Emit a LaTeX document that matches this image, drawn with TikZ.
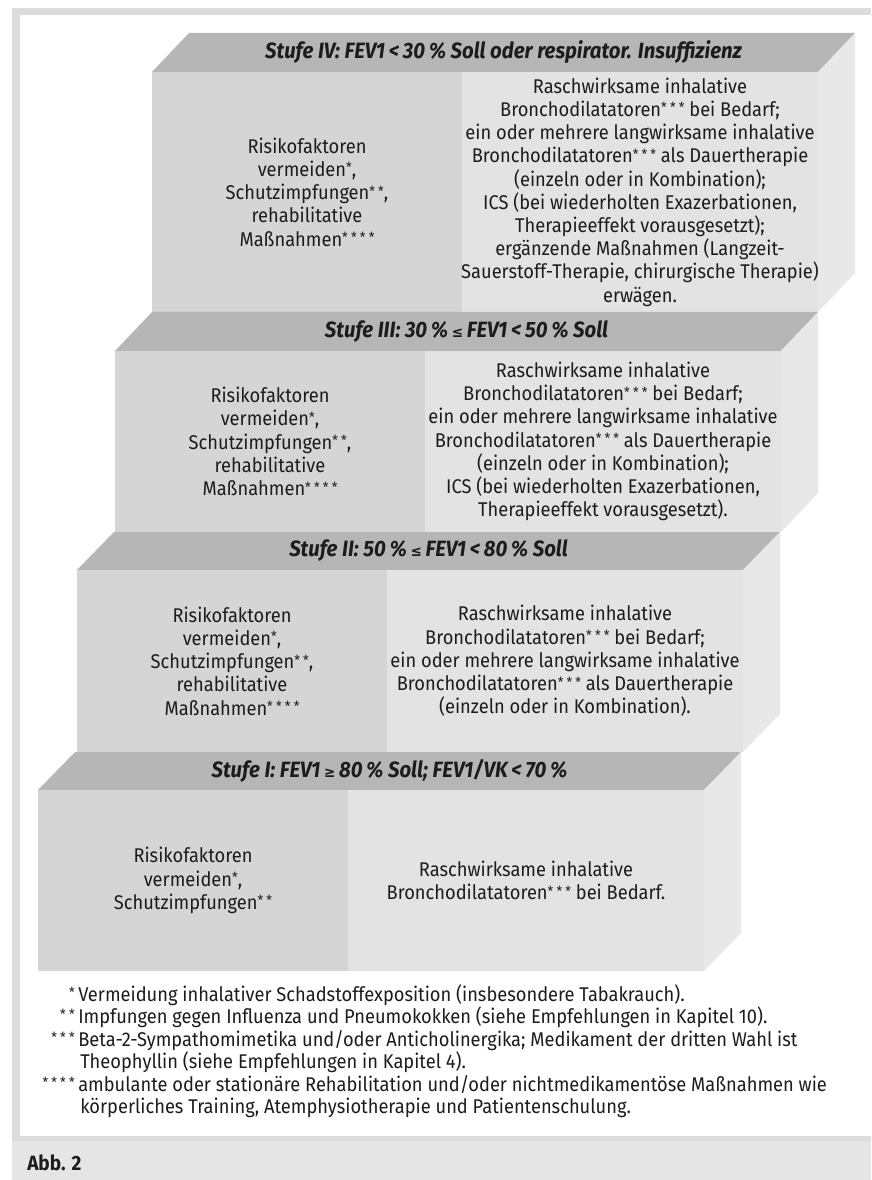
\documentclass[tikz,border=0pt]{standalone}
\usepackage{fontspec}
\setmainfont{Fira Sans}[FakeStretch=0.92]
\newfontfamily\symfont{DejaVu Sans}[FakeStretch=0.92]
\definecolor{framegray}{HTML}{DCDCDC}
\definecolor{capgray}{HTML}{E5E5E5}
\definecolor{bargray}{HTML}{B6B6B6}
\definecolor{leftgray}{HTML}{D5D5D5}
\definecolor{rightgray}{HTML}{E3E3E3}
\definecolor{sidegray}{HTML}{E8E8E8}
\definecolor{txt}{HTML}{1C1C1C}
\newcommand\bodyfont{\fontsize{14.9}{17.4}\selectfont}
\newcommand\headfont{\fontsize{16.6}{18}\selectfont\bfseries\itshape}
\newcommand\stars[1]{\raisebox{2.6pt}{\fontsize{10.5}{10.5}\selectfont #1}}
\newcommand\sthree{\stars{*\kern2.4pt*\kern2.4pt*}}
\newcommand\stwo{\stars{*\kern2.4pt*}}
\newcommand\sone{\stars{*}}
\newcommand\sfour{\stars{*\kern2.4pt*\kern2.4pt*\kern2.4pt*}}
\newcommand\myle{{\symfont\fontsize{11}{11}\selectfont ≤}}
\newcommand\myge{{\symfont\fontsize{11}{11}\selectfont ≥}}
\tikzset{
  head/.style={font=\headfont, text=txt, inner sep=0pt},
  body/.style={font=\bodyfont, align=center, text=txt, inner sep=0pt},
  fnote/.style={font=\bodyfont, anchor=base west, text=txt, inner sep=0pt},
  fstar/.style={font=\bodyfont, anchor=base east, text=txt, inner sep=0pt},
}
% name, L, T (bar top), F (front top), B (front bottom)
\newcommand\drawstufe[5]{%
  \fill[bargray] (#2,#4) -- ({#2+37},#3) -- ({#2+703},#3) -- ({#2+666},#4) -- cycle;
  \fill[leftgray] (#2,#4) rectangle ({#2+310},#5);
  \fill[rightgray] ({#2+310},#4) rectangle ({#2+666},#5);
  \fill[sidegray] ({#2+666},#4) -- ({#2+703},#3) -- ({#2+703},{#5-(#4-#3)}) -- ({#2+666},#5) -- cycle;
  \coordinate (#1-hd) at ({#2+351.5},{(#3+#4)/2});
  \coordinate (#1-l) at ({#2+155},{(#4+#5)/2});
  \coordinate (#1-r) at ({#2+488},{(#4+#5)/2});
}
\begin{document}
\begin{tikzpicture}[x=0.75pt,y=-0.75pt]
\useasboundingbox (0,0) rectangle (871,1180);
\fill[white] (0,0) rectangle (871,1180);
% frame
\fill[framegray] (12,8) rectangle (871,1180);
\fill[white] (20,15) rectangle (871,1136);
\fill[capgray] (12,1141) rectangle (871,1180);

\drawstufe{s4}{152}{33}{72}{312}
\drawstufe{s3}{115}{312}{351}{532}
\drawstufe{s2}{77}{532}{570}{752}
\drawstufe{s1}{38}{752}{790}{971}

% Stufe IV
\node[head] (h4) at (s4-hd) {Stufe IV: FEV1\,<\,30\,\% Soll oder respirator. Insuffizienz};
\node[body] (l4) at (s4-l) {Risikofaktoren\\vermeiden\sone,\\Schutzimpfungen\stwo,\\rehabilitative\\Maßnahmen\sfour};
\node[body] (r4) at (s4-r) {Raschwirksame inhalative\\Bronchodilatatoren\sthree\ bei Bedarf;\\ein oder mehrere langwirksame inhalative\\Bronchodilatatoren\sthree\ als Dauertherapie\\(einzeln oder in Kombination);\\ICS (bei wiederholten Exazerbationen,\\Therapieeffekt vorausgesetzt);\\ergänzende Maßnahmen (Langzeit-\\Sauerstoff-Therapie, chirurgische Therapie)\\erwägen.};

% Stufe III
\node[head] (h3) at (s3-hd) {Stufe III: 30\,\%\,\myle\,FEV1\,<\,50\,\% Soll};
\node[body] (l3) at (s3-l) {Risikofaktoren\\vermeiden\sone,\\Schutzimpfungen\stwo,\\rehabilitative\\Maßnahmen\sfour};
\node[body] (r3) at (s3-r) {Raschwirksame inhalative\\Bronchodilatatoren\sthree\ bei Bedarf;\\ein oder mehrere langwirksame inhalative\\Bronchodilatatoren\sthree\ als Dauertherapie\\(einzeln oder in Kombination);\\ICS (bei wiederholten Exazerbationen,\\Therapieeffekt vorausgesetzt).};

% Stufe II
\node[head] (h2) at (s2-hd) {Stufe II: 50\,\%\,\myle\,FEV1\,<\,80\,\% Soll};
\node[body] (l2) at (s2-l) {Risikofaktoren\\vermeiden\sone,\\Schutzimpfungen\stwo,\\rehabilitative\\Maßnahmen\sfour};
\node[body] (r2) at (s2-r) {Raschwirksame inhalative\\Bronchodilatatoren\sthree\ bei Bedarf;\\ein oder mehrere langwirksame inhalative\\Bronchodilatatoren\sthree\ als Dauertherapie\\(einzeln oder in Kombination).};

% Stufe I
\node[head] (h1) at (s1-hd) {Stufe I: FEV1\,\myge\,80\,\% Soll; FEV1/VK\,<\,70\,\%};
\node[body] (l1) at (s1-l) {Risikofaktoren\\vermeiden\sone,\\Schutzimpfungen\stwo};
\node[body] (r1) at (s1-r) {Raschwirksame inhalative\\Bronchodilatatoren\sthree\ bei Bedarf.};

% footnotes
\node[fstar] (fs1) at (75,1001) {\sone};
\node[fnote] (f1) at (78,1001) {Vermeidung inhalativer Schadstoffexposition (insbesondere Tabakrauch).};
\node[fstar] (fs2) at (75,1023) {\stwo};
\node[fnote] (f2) at (78,1023) {Impfungen gegen Influenza und Pneumokokken (siehe Empfehlungen in Kapitel 10).};
\node[fstar] (fs3) at (75,1046) {\sthree};
\node[fnote] (f3) at (78,1046) {Beta-2-Sympathomimetika und/oder Anticholinergika; Medikament der dritten Wahl ist};
\node[fnote] (f3b) at (80,1068) {Theophyllin (siehe Empfehlungen in Kapitel 4).};
\node[fstar] (fs4) at (75,1091) {\sfour};
\node[fnote] (f4) at (78,1091) {ambulante oder stationäre Rehabilitation und/oder nichtmedikamentöse Maßnahmen wie};
\node[fnote] (f4b) at (80,1113) {körperliches Training, Atemphysiotherapie und Patientenschulung.};

% caption
\node[anchor=base west, inner sep=0pt, text=txt, font=\fontsize{15.5}{17}\selectfont\bfseries] (abb) at (27,1170) {Abb. 2};
\end{tikzpicture}
\end{document}
